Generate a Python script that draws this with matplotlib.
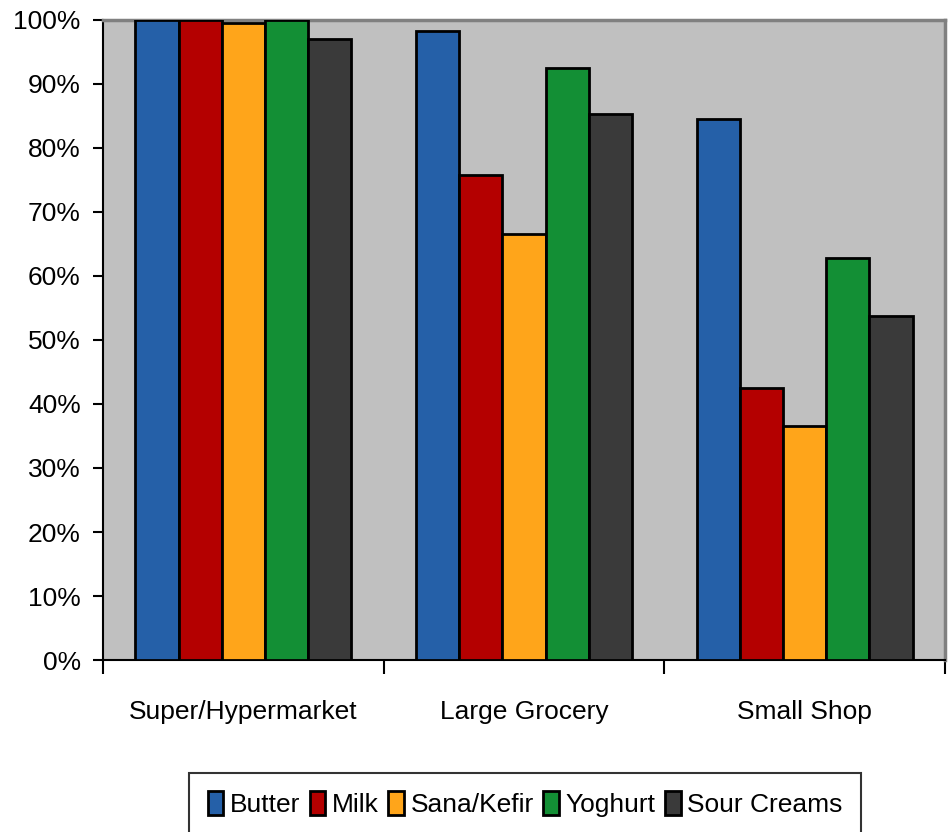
import numpy as np
import matplotlib.pyplot as plt
from matplotlib.ticker import FixedLocator, PercentFormatter

plt.rcParams['font.family'] = ['Liberation Sans', 'DejaVu Sans']

categories = ["Super/Hypermarket", "Large Grocery", "Small Shop"]
products = ["Butter", "Milk", "Sana/Kefir", "Yoghurt", "Sour Creams"]
butter = [100, 98.3, 84.5]
milk = [100, 75.8, 42.5]
sana_kefir = [99.5, 66.6, 36.6]
yoghurt = [100, 92.5, 62.8]
sour_creams = [97.0, 85.3, 53.7]
colors = ["#2560A8", "#B40000", "#FFA51A", "#138F35", "#3A3A3A"]

series = [butter, milk, sana_kefir, yoghurt, sour_creams]
fs = 19

fig = plt.figure(figsize=(9.48, 8.32), dpi=100)
ax = fig.add_axes([103/948, 1-660/832, 842/948, 640/832])
ax.set_facecolor("#C0C0C0")

x = np.arange(len(categories))
w = 1 / 6.5
for i, (vals, name, c) in enumerate(zip(series, products, colors)):
    ax.bar(x + (i - 2) * w, vals, width=w, color=c, edgecolor="black",
           linewidth=2, label=name, zorder=3)

ax.set_xlim(-0.5, 2.5)
ax.set_ylim(0, 100)
ax.yaxis.set_major_locator(FixedLocator(np.arange(0, 101, 10)))
ax.yaxis.set_major_formatter(PercentFormatter(decimals=0))

# ticks aux frontières, libellés au centre
ax.set_xticks([-0.5, 0.5, 1.5, 2.5])
ax.set_xticklabels([])
ax.set_xticks(x, minor=True)
ax.set_xticklabels(categories, minor=True)
ax.tick_params(axis="x", which="major", length=10, width=1.5, direction="out")
ax.tick_params(axis="x", which="minor", length=0, pad=29, labelsize=fs)
ax.tick_params(axis="y", length=7, width=1.5, direction="out", labelsize=fs, pad=9)

for s in ["left", "bottom"]:
    ax.spines[s].set_color("black")
    ax.spines[s].set_linewidth(1.5)
for s in ["top", "right"]:
    ax.spines[s].set_color("#808080")
    ax.spines[s].set_linewidth(2.5)

leg = fig.legend(loc="upper center", bbox_to_anchor=(525/948, 1-773/832), ncol=5,
                 fontsize=fs, frameon=True, fancybox=False, edgecolor="black",
                 handlelength=0.6, handleheight=1.0, handletextpad=0.25,
                 columnspacing=0.35, borderpad=0.7, borderaxespad=0)
leg.get_frame().set_linewidth(1.5)

fig.savefig("out.png", dpi=100)
